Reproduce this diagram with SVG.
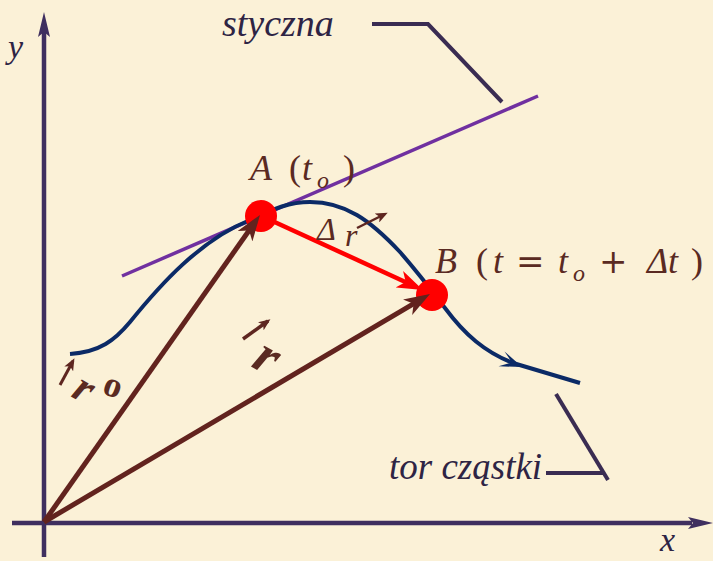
<svg xmlns="http://www.w3.org/2000/svg" width="713" height="561" viewBox="0 0 713 561">
<defs>
<style>
.axis{stroke:#3F2F5F;stroke-width:4.5;fill:none}
.lead{stroke:#3A2C52;stroke-width:4;fill:none}
.vec{stroke:#62231E;stroke-width:5;fill:none}
.lbl{font-family:'Liberation Serif','DejaVu Serif','Times New Roman',serif;fill:#2E2444;font-style:italic}
.math{font-family:'Liberation Serif','DejaVu Serif','Times New Roman',serif;fill:#5A2A22}
.it{font-style:italic}
.op{font-family:'DejaVu Serif',serif}
</style>
<marker id="brownHead" markerUnits="userSpaceOnUse" markerWidth="26" markerHeight="18" refX="18" refY="9" orient="auto" viewBox="0 0 26 18">
<path d="M0,0 L26,9 L0,18 L7,9 Z" fill="#62231E"/>
</marker>
<marker id="redHead" markerUnits="userSpaceOnUse" markerWidth="26" markerHeight="18" refX="18" refY="9" orient="auto" viewBox="0 0 26 18">
<path d="M0,0 L26,9 L0,18 L7,9 Z" fill="#FF0000"/>
</marker>
<marker id="smallHead" markerUnits="userSpaceOnUse" markerWidth="12" markerHeight="10" refX="9" refY="5" orient="auto" viewBox="0 0 12 10">
<path d="M0,0 L12,5 L0,10 L3,5 Z" fill="#5E2620"/>
</marker>
</defs>
<rect width="713" height="561" fill="#FBF1D7"/>

<g id="axes">
<line class="axis" x1="44" y1="557" x2="44" y2="30"/>
<path d="M44,12 L50,37 L44,32 L38,37 Z" fill="#3F2F5F"/>
<line class="axis" x1="12" y1="523" x2="692" y2="523"/>
<path d="M713,523 L688,517 L693,523 L688,529 Z" fill="#3F2F5F"/>
<text class="lbl" x="8" y="58" font-size="34">y</text>
<text class="lbl" x="660" y="551" font-size="34">x</text>
</g>

<g id="tangent">
<line x1="122" y1="276" x2="538" y2="96" stroke="#7030A0" stroke-width="3.5"/>
</g>

<g id="trajectory">
<path d="M70,354 C100,352 115,340 130,322 C160,285 200,240 250,220 C275,208 290,202 310,202 C345,202 370,220 400,252 C420,275 435,295 445,308 C465,335 485,352 513,363 L580,383" stroke="#0B2A66" stroke-width="4" fill="none"/>
<path d="M522,367 L504.5,351.5 L512,362.5 L498.5,366.3 Z" fill="#0B2A66"/>
</g>

<g id="pointA">
<circle cx="261" cy="216" r="16" fill="#FF0000"/>
<text class="math" font-size="36"><tspan class="it" x="250" y="180">A</tspan><tspan x="289" y="180">(</tspan><tspan class="it" x="302" y="180">t</tspan><tspan class="it" x="317" y="188" font-size="24">o</tspan><tspan x="343" y="180">)</tspan></text>
</g>

<g id="pointB">
<circle cx="432" cy="295" r="16" fill="#FF0000"/>
<text class="math" font-size="36"><tspan class="it" x="435" y="273">B</tspan><tspan x="476" y="273">(</tspan><tspan class="it" x="493" y="273">t</tspan><tspan class="op" x="516" y="273" font-size="34">=</tspan><tspan class="it" x="558" y="273">t</tspan><tspan class="it" x="573" y="281" font-size="24">o</tspan><tspan class="op" x="599" y="273" font-size="34">+</tspan><tspan class="it" x="647" y="273">Δ</tspan><tspan class="it" x="668" y="273">t</tspan><tspan x="691" y="273">)</tspan></text>
</g>

<g id="connectors">
<line class="vec" x1="44" y1="522" x2="255.4" y2="221.5" marker-end="url(#brownHead)"/>
<line class="vec" x1="44" y1="522" x2="423.1" y2="298.1" marker-end="url(#brownHead)"/>
<line x1="268" y1="219" x2="415.7" y2="286.7" stroke="#FF0000" stroke-width="4.5" marker-end="url(#redHead)"/>
</g>

<g id="label-dr">
<text class="math" font-size="32"><tspan class="it" x="317" y="240">Δ</tspan><tspan class="it" x="345" y="246">r</tspan></text>
<line x1="357" y1="228" x2="385" y2="214" stroke="#5E2620" stroke-width="2.5" marker-end="url(#smallHead)"/>
</g>

<g id="label-r">
<text class="math it" font-size="54" font-weight="bold" transform="translate(250,366) rotate(30)">r</text>
<line x1="243" y1="339" x2="268" y2="321" stroke="#5E2620" stroke-width="3.5" marker-end="url(#smallHead)"/>
</g>

<g id="label-r0">
<text class="math it" font-size="44" font-weight="bold" transform="translate(70,396) rotate(30)">r</text>
<line x1="60" y1="385" x2="73" y2="361" stroke="#5E2620" stroke-width="3" marker-end="url(#smallHead)"/>
<text class="math" font-size="36" font-weight="bold" transform="translate(101,393) rotate(20)">o</text>
</g>

<g id="label-styczna">
<text class="lbl" x="222" y="36" font-size="38">styczna</text>
<polyline class="lead" points="372,24 428,24 502,102"/>
</g>

<g id="label-tor">
<text class="lbl" x="389" y="479" font-size="37">tor cząstki</text>
<line class="lead" x1="546" y1="473" x2="603" y2="473"/>
<line class="lead" x1="556" y1="394" x2="608" y2="480"/>
</g>
</svg>
